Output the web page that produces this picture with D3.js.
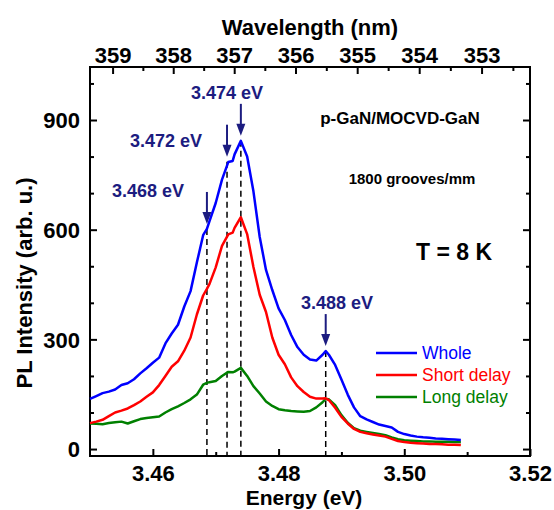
<!DOCTYPE html>
<html>
<head>
<meta charset="utf-8">
<script src="https://cdn.jsdelivr.net/npm/d3@7"></script>
<style>
  body { margin: 0; background: #fff; }
  svg text { font-family: "Liberation Sans", Arial, sans-serif; }
</style>
</head>
<body>
<svg id="chart"></svg>
<script>
// photon energy (eV) of each sample
var energy = [
  3.450, 3.451, 3.452, 3.453, 3.454, 3.455, 3.456, 3.457, 3.458, 3.459,
  3.460, 3.461, 3.462, 3.463, 3.464, 3.465, 3.466, 3.467, 3.468, 3.4686, 3.469,
  3.470, 3.471, 3.472, 3.4727, 3.473, 3.474, 3.475, 3.476, 3.477, 3.478, 3.479,
  3.480, 3.481, 3.482, 3.483, 3.484, 3.485, 3.486, 3.487, 3.4875, 3.488, 3.489,
  3.490, 3.491, 3.492, 3.493, 3.494, 3.495, 3.496, 3.497, 3.498, 3.499,
  3.500, 3.501, 3.502, 3.503, 3.504, 3.505, 3.506, 3.507, 3.508, 3.509
];

var whole = [
  137, 145, 153, 157, 163, 175, 180, 191, 207, 221,
  236, 250, 289, 316, 340, 390, 432, 510, 585, 602, 623,
  673, 737, 785, 788, 806, 843, 800, 705, 580, 490, 435,
  385, 353, 312, 279, 258, 245, 242, 258, 268, 258, 230,
  190, 149, 114, 90, 81, 74, 67, 63, 59, 47,
  41, 37, 34, 32, 31, 29, 28, 27, 26, 25
];

var shortDelay = [
  71, 75, 80, 90, 100, 105, 111, 120, 130, 143,
  155, 175, 200, 225, 240, 269, 305, 368, 420, 438, 451,
  497, 556, 587, 592, 605, 634, 588, 498, 422, 375, 305,
  258, 232, 196, 172, 156, 143, 138, 138, 139, 134, 113,
  88, 70, 55, 47, 43, 40, 37, 34, 28, 22,
  19, 17, 16, 15, 14, 14, 13, 12, 12, 11
];

var longDelay = [
  70, 69, 68, 71, 73, 75, 70, 76, 82, 85,
  87, 89, 100, 109, 117, 126, 136, 149, 176, 181, 183,
  186, 200, 211, 210, 212, 222, 200, 172, 152, 130, 118,
  109, 106, 104, 103, 102, 104, 114, 128, 137, 136, 120,
  93, 72, 57, 50, 47, 44, 41, 38, 32, 27,
  24, 23, 22, 21, 21, 20, 20, 20, 19, 19
];

var seriesNames = ["Whole", "Short delay", "Long delay"];
var seriesColors = ["#0000ff", "#ff0000", "#008000"];

var energyTicks = [3.46, 3.48, 3.50, 3.52];
var energyMinor = [3.47, 3.49, 3.51];
var intensityTicks = [0, 300, 600, 900];
var intensityMinor = [100, 200, 400, 500, 700, 800, 1000];
var wavelengthTicks = [359, 358, 357, 356, 355, 354, 353];
var wavelengthMinor = [358.5, 357.5, 356.5, 355.5, 354.5, 353.5, 352.5];

// marked peaks
var peakEnergy = [3.4686, 3.4718, 3.474, 3.4875];
var peakIntensity = [602, 786, 843, 268];
var peakLabels = ["3.468 eV", "3.472 eV", "3.474 eV", "3.488 eV"];

var width = 554, height = 510;
var mLeft = 90, mRight = 530, mTop = 67, mBottom = 456;
var navy = "#1c1c80";

var svg = d3.select("#chart")
    .attr("width", width)
    .attr("height", height);

var x = d3.scaleLinear().domain([3.45, 3.52]).range([mLeft, mRight]);
var y = d3.scaleLinear().domain([-19, 1045]).range([mBottom, mTop]);

// wavelength axis: each nm tick sits at its photon energy
var hc = 1239.84;
var wScale = function(nm) { return x(hc / nm); };
wScale.range = function() { return [mLeft, mRight]; };
wScale.copy = function() { return wScale; };

function styleAxis(g) {
    g.select(".domain").remove();
    g.selectAll(".tick line").attr("stroke", "#000").attr("stroke-width", 2);
    g.selectAll("text")
        .attr("font-size", 22)
        .attr("font-weight", "bold")
        .attr("fill", "#000");
}

// bottom energy axis
svg.append("g")
    .attr("transform", "translate(0," + mBottom + ")")
    .call(d3.axisBottom(x).tickValues(energyTicks).tickSize(-7).tickFormat(d3.format(".2f")))
    .call(styleAxis)
    .call(function(g) { g.selectAll("text").attr("y", 25).attr("dy", null); });

svg.append("g")
    .attr("transform", "translate(0," + mBottom + ")")
    .call(d3.axisBottom(x).tickValues(energyMinor).tickSize(-4).tickFormat(""))
    .call(styleAxis);

// left intensity axis
svg.append("g")
    .attr("transform", "translate(" + mLeft + ",0)")
    .call(d3.axisLeft(y).tickValues(intensityTicks).tickSize(-7))
    .call(styleAxis)
    .call(function(g) { g.selectAll("text").attr("x", -10).attr("dy", "0.36em"); });

svg.append("g")
    .attr("transform", "translate(" + mLeft + ",0)")
    .call(d3.axisLeft(y).tickValues(intensityMinor).tickSize(-4).tickFormat(""))
    .call(styleAxis);

// right mirror ticks
svg.append("g")
    .attr("transform", "translate(" + mRight + ",0)")
    .call(d3.axisRight(y).tickValues(intensityTicks).tickSize(-7).tickFormat(""))
    .call(styleAxis);

svg.append("g")
    .attr("transform", "translate(" + mRight + ",0)")
    .call(d3.axisRight(y).tickValues(intensityMinor).tickSize(-4).tickFormat(""))
    .call(styleAxis);

// top wavelength axis
svg.append("g")
    .attr("transform", "translate(0," + mTop + ")")
    .call(d3.axisTop(wScale).tickValues(wavelengthTicks).tickSize(-7).tickFormat(d3.format("d")))
    .call(styleAxis)
    .call(function(g) { g.selectAll("text").attr("y", -4).attr("dy", null); });

svg.append("g")
    .attr("transform", "translate(0," + mTop + ")")
    .call(d3.axisTop(wScale).tickValues(wavelengthMinor).tickSize(-4).tickFormat(""))
    .call(styleAxis);

// frame
svg.append("rect")
    .attr("x", mLeft)
    .attr("y", mTop)
    .attr("width", mRight - mLeft)
    .attr("height", mBottom - mTop)
    .attr("fill", "none")
    .attr("stroke", "#000")
    .attr("stroke-width", 2);

// dashed guide lines
svg.selectAll(".guide")
    .data(peakEnergy)
    .enter()
    .append("line")
    .attr("class", "guide")
    .attr("x1", function(d) { return x(d); })
    .attr("x2", function(d) { return x(d); })
    .attr("y1", function(d, i) { return y(peakIntensity[i]); })
    .attr("y2", mBottom)
    .attr("stroke", "#000")
    .attr("stroke-width", 1.5)
    .attr("stroke-dasharray", "6,4");

// spectra
var line = d3.line()
    .x(function(d, i) { return x(energy[i]); })
    .y(function(d) { return y(d); });

var allSeries = [whole, shortDelay, longDelay];

svg.selectAll(".spectrum")
    .data(allSeries.slice().reverse())
    .enter()
    .append("path")
    .attr("class", "spectrum")
    .attr("d", line)
    .attr("fill", "none")
    .attr("stroke", function(d, i) { return seriesColors[2 - i]; })
    .attr("stroke-width", 2.5)
    .attr("stroke-linejoin", "round");

// peak arrows
var arrowLen = 32;
peakEnergy.forEach(function(e, i) {
    var ax = x(e);
    var tip = y(peakIntensity[i]) - 5;
    svg.append("line")
        .attr("x1", ax).attr("x2", ax)
        .attr("y1", tip - arrowLen).attr("y2", tip - 8)
        .attr("stroke", navy)
        .attr("stroke-width", 2);
    svg.append("path")
        .attr("d", "M" + (ax - 4.5) + "," + (tip - 12) + "L" + (ax + 4.5) + "," + (tip - 12) + "L" + ax + "," + tip + "Z")
        .attr("fill", navy);
});

// peak labels (pixel anchor of each label)
var labelPos = [[148, 197], [166, 147], [227, 99], [337, 309]];
svg.selectAll(".peak-label")
    .data(peakLabels)
    .enter()
    .append("text")
    .attr("class", "peak-label")
    .attr("x", function(d, i) { return labelPos[i][0]; })
    .attr("y", function(d, i) { return labelPos[i][1]; })
    .attr("text-anchor", "middle")
    .attr("font-size", 18)
    .attr("font-weight", "bold")
    .attr("fill", navy)
    .text(function(d) { return d; });

// sample notes
svg.append("text")
    .attr("x", 400).attr("y", 124)
    .attr("text-anchor", "middle")
    .attr("font-size", 17)
    .attr("font-weight", "bold")
    .text("p-GaN/MOCVD-GaN");

svg.append("text")
    .attr("x", 412).attr("y", 184)
    .attr("text-anchor", "middle")
    .attr("font-size", 15)
    .attr("font-weight", "bold")
    .text("1800 grooves/mm");

svg.append("text")
    .attr("x", 454).attr("y", 260)
    .attr("text-anchor", "middle")
    .attr("font-size", 23)
    .attr("font-weight", "bold")
    .text("T = 8 K");

// legend
var legend = svg.append("g").attr("transform", "translate(376,353)");
seriesNames.forEach(function(name, i) {
    legend.append("line")
        .attr("x1", 0).attr("x2", 41)
        .attr("y1", i * 22).attr("y2", i * 22)
        .attr("stroke", seriesColors[i])
        .attr("stroke-width", 2.5);
    legend.append("text")
        .attr("x", 46).attr("y", i * 22 + 6)
        .attr("font-size", 17.5)
        .attr("fill", seriesColors[i])
        .text(name);
});

// axis titles
svg.append("text")
    .attr("x", 304).attr("y", 505)
    .attr("text-anchor", "middle")
    .attr("font-size", 21)
    .attr("font-weight", "bold")
    .text("Energy (eV)");

svg.append("text")
    .attr("x", 310).attr("y", 35)
    .attr("text-anchor", "middle")
    .attr("font-size", 22)
    .attr("font-weight", "bold")
    .text("Wavelength (nm)");

svg.append("text")
    .attr("transform", "translate(32,283) rotate(-90)")
    .attr("text-anchor", "middle")
    .attr("font-size", 22)
    .attr("font-weight", "bold")
    .text("PL Intensity (arb. u.)");
</script>
</body>
</html>
